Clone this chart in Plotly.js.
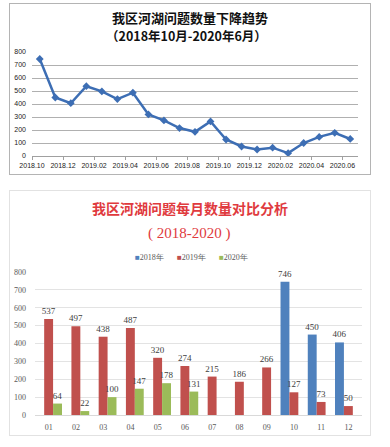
<!DOCTYPE html>
<html>
<head>
<meta charset="utf-8">
<script src="https://cdn.plot.ly/plotly-3.0.1.min.js"></script>
<style>
  html, body { margin: 0; padding: 0; background: #ffffff; width: 390px; height: 447px; overflow: hidden; }
  .box { position: absolute; box-sizing: border-box; background: #ffffff; }
  #box1 { left: 9px; top: 3px; width: 362px; height: 172px; border: 1px solid #b4b4b4; }
  #box2 { left: 9px; top: 190px; width: 362px; height: 246px; border: 1px solid #e2e2e2; }
</style>
</head>
<body>
<div class="box" id="box1"><div id="chart1"></div></div>
<div class="box" id="box2"><div id="chart2"></div></div>
<script>
// ---------- Chart 1: monthly trend ----------
const trendMonths = ['2018.10','2018.11','2018.12','2019.01','2019.02','2019.03','2019.04','2019.05','2019.06','2019.07','2019.08','2019.09','2019.10','2019.11','2019.12','2020.01','2020.02','2020.03','2020.04','2020.05','2020.06'];
const trendValues = [746, 450, 406, 537, 497, 438, 487, 320, 274, 215, 186, 266, 127, 73, 50, 64, 22, 100, 147, 178, 131];
const trendTitle1 = '我区河湖问题数量下降趋势';
const trendTitle2 = '（2018年10月-2020年6月）';
const trendYTicks = [0, 100, 200, 300, 400, 500, 600, 700, 800];

// ---------- Chart 2: monthly comparison ----------
const monthLabels = ['01','02','03','04','05','06','07','08','09','10','11','12'];
const seriesNames = ['2018年', '2019年', '2020年'];
const values2018 = [null, null, null, null, null, null, null, null, null, 746, 450, 406];
const values2019 = [537, 497, 438, 487, 320, 274, 215, 186, 266, 127, 73, 50];
const values2020 = [64, 22, 100, 147, 178, 131, null, null, null, null, null, null];
const compareTitle1 = '我区河湖问题每月数量对比分析';
const compareTitle2 = '( 2018-2020 )';
const compareYTicks = [0, 100, 200, 300, 400, 500, 600, 700, 800];

const seriesColors = ['#4f81bd', '#c0504d', '#9bbb59'];

// x positions (category indices) for the trend chart
const idx = trendMonths.map((m, i) => i);
// tick marks sit between categories; labels every second month
const tickPos = [];
const tickTxt = [];
for (let i = 0; i <= trendMonths.length; i += 2) {
  tickPos.push(i - 0.5);
  tickTxt.push(i < trendMonths.length ? trendMonths[i] : '');
}

const W1 = 360, H1 = 170;
const plotW1 = W1 - 22 - 12;
const catPx = plotW1 / (trendMonths.length);

Plotly.newPlot('chart1', [{
  type: 'scatter',
  mode: 'lines+markers',
  x: idx,
  y: trendValues,
  line: { color: '#3d6eb4', width: 2.5 },
  marker: { symbol: 'diamond', size: 6, color: '#3d6eb4' },
  hoverinfo: 'skip'
}], {
  width: W1, height: H1,
  margin: { l: 22, r: 12, t: 48, b: 18 },
  paper_bgcolor: '#ffffff',
  plot_bgcolor: '#ffffff',
  showlegend: false,
  title: {
    text: trendTitle1,
    font: { family: 'Noto Sans CJK SC, sans-serif', size: 13, color: '#111111', weight: 'bold' },
    x: 0.5, xref: 'container', xanchor: 'center',
    y: 1 - 14 / H1, yref: 'container', yanchor: 'middle'
  },
  annotations: [{
    text: '<b>' + trendTitle2 + '</b>',
    xref: 'paper', yref: 'paper', x: 0.475, y: 1.155,
    xanchor: 'center', yanchor: 'middle', showarrow: false,
    font: { family: 'Noto Sans CJK SC, sans-serif', size: 12.5, color: '#111111' }
  }],
  xaxis: {
    range: [-0.5, trendMonths.length - 0.5],
    tickmode: 'array', tickvals: tickPos, ticktext: tickTxt,
    ticklabelshift: catPx / 2,
    ticks: 'outside', ticklen: 3, tickcolor: '#a0a0a0',
    showgrid: false, zeroline: false,
    showline: true, linecolor: '#a0a0a0', linewidth: 1,
    tickfont: { family: 'Liberation Sans, Arial, sans-serif', size: 7, color: '#222222' },
    fixedrange: true
  },
  yaxis: {
    range: [0, 800],
    tickmode: 'array', tickvals: trendYTicks,
    showgrid: true, gridcolor: '#b0b0b0', gridwidth: 1,
    zeroline: false, showline: false, ticks: '',
    ticklabelstandoff: 5,
    tickfont: { family: 'Liberation Sans, Arial, sans-serif', size: 7, color: '#222222' },
    fixedrange: true
  }
}, { staticPlot: true });

// ---------- Chart 2 ----------
const W2 = 360, H2 = 244;
const allSeries = [values2018, values2019, values2020];
const barTraces = allSeries.map((vals, k) => ({
  type: 'bar',
  name: seriesNames[k],
  x: monthLabels,
  y: vals,
  text: vals.map(v => (v == null ? '' : String(v))),
  textposition: 'outside',
  constraintext: 'none',
  cliponaxis: false,
  textfont: { family: 'Liberation Serif, Times New Roman, serif', size: 9, color: '#404040' },
  marker: { color: seriesColors[k] },
  hoverinfo: 'skip'
}));

const plotL2 = 25, plotR2 = 8;
const plotW2 = W2 - plotL2 - plotR2;
const legendStartPx = [133, 175, 217];
const legendAnns = seriesNames.map((n, k) => ({
  text: '<span style="color:' + seriesColors[k] + '">■</span>' + n,
  xref: 'paper', yref: 'paper',
  x: (legendStartPx[k] - 10 - plotL2) / plotW2, y: 1.103,
  xanchor: 'left', yanchor: 'middle', showarrow: false,
  font: { family: 'Liberation Serif, Times New Roman, serif', size: 8, color: '#595959' }
}));

Plotly.newPlot('chart2', barTraces, {
  width: W2, height: H2,
  margin: { l: plotL2, r: plotR2, t: 81, b: 20 },
  paper_bgcolor: '#ffffff',
  plot_bgcolor: '#ffffff',
  showlegend: false,
  barmode: 'group',
  bargap: 0.02,
  bargroupgap: 0,
  title: {
    text: compareTitle1,
    font: { family: 'Noto Sans CJK SC, sans-serif', size: 14, color: '#e03a3e', weight: 'bold' },
    x: 0.5, xref: 'container', xanchor: 'center',
    y: 1 - 18 / H2, yref: 'container', yanchor: 'middle'
  },
  annotations: [{
    text: compareTitle2,
    xref: 'paper', yref: 'paper', x: 0.471, y: 1.27,
    xanchor: 'center', yanchor: 'middle', showarrow: false,
    font: { family: 'Liberation Serif, Times New Roman, serif', size: 15, color: '#e03a3e' }
  }].concat(legendAnns),
  xaxis: {
    type: 'category',
    showgrid: false, zeroline: false,
    showline: true, linecolor: '#d9d9d9', linewidth: 1,
    ticks: '',
    ticklabelstandoff: 4,
    tickfont: { family: 'Liberation Serif, Times New Roman, serif', size: 8, color: '#595959' },
    fixedrange: true
  },
  yaxis: {
    range: [0, 800],
    tickmode: 'array', tickvals: compareYTicks,
    showgrid: true, gridcolor: '#e3e3e3', gridwidth: 1,
    zeroline: false, showline: false, ticks: '',
    ticklabelstandoff: 8,
    tickfont: { family: 'Liberation Serif, Times New Roman, serif', size: 8, color: '#595959' },
    fixedrange: true
  }
}, { staticPlot: true });
</script>
</body>
</html>
